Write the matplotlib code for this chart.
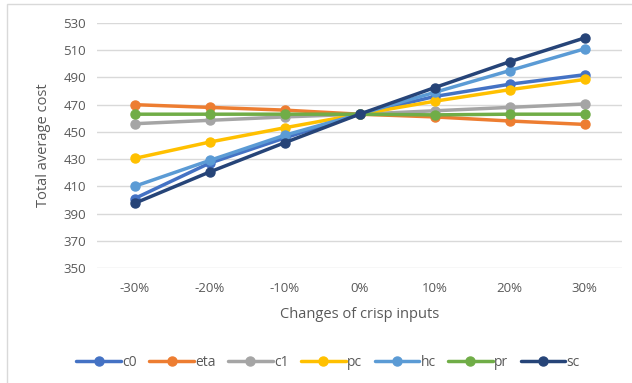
import numpy as np
import matplotlib
matplotlib.use("Agg")
import matplotlib.pyplot as plt
from matplotlib.patches import Rectangle

plt.rcParams['font.family'] = ['Open Sans', 'DejaVu Sans']

categories = ["-30%", "-20%", "-10%", "0%", "10%", "20%", "30%"]
c0 = [401, 427, 445.5, 463, 476, 485, 492]
eta = [470, 468, 466, 463, 461, 458, 455.5]
c1 = [456, 458.5, 461, 463, 465.5, 468, 470.5]
pc = [430.5, 442.5, 453, 463, 472.5, 481, 488.5]
hc = [410, 429, 447.5, 463, 479, 495, 511]
pr = [463, 463, 463, 463, 462.5, 463, 463]
sc = [397.5, 420.5, 442, 463, 482.5, 501.5, 519]

series = [("c0", c0, "#4472C4"), ("eta", eta, "#ED7D31"), ("c1", c1, "#A5A5A5"),
          ("pc", pc, "#FFC000"), ("hc", hc, "#5B9BD5"), ("pr", pr, "#70AD47"),
          ("sc", sc, "#264478")]

fig = plt.figure(figsize=(6.32, 3.83), dpi=100)
ax = fig.add_axes([97/632, 1-268/383, 525/632, 245/383])

x = np.arange(len(categories))
for name, vals, col in series:
    ax.plot(x, vals, color=col, lw=2.5, marker="o", ms=6.5, label=name,
            solid_capstyle="round")

ax.set_xlim(-0.5, len(categories)-0.5)
ax.set_ylim(350, 530)
ax.set_yticks(np.arange(350, 531, 20))
ax.set_xticks(x)
ax.set_xticklabels(categories)
ax.grid(axis="y", color="#d9d9d9", lw=1)
ax.set_axisbelow(True)
for s in ax.spines.values():
    s.set_visible(False)
ax.tick_params(length=0, labelsize=9.5, labelcolor="#595959", pad=10)
ax.tick_params(axis="y", pad=8)

ax.set_xlabel("Changes of crisp inputs", fontsize=10.5, color="#595959", labelpad=9)
ax.set_ylabel("Total average cost", fontsize=10.5, color="#595959", labelpad=9)

ax.legend(loc="center", bbox_to_anchor=(328/632, 1-362/383), bbox_transform=fig.transFigure,
          ncol=7, frameon=False, fontsize=10, handlelength=3.2, handletextpad=0.1,
          columnspacing=0.9, labelcolor="#595959")

fig.patches.append(Rectangle((7/632, -0.01), 1, 1-4/383+0.01, transform=fig.transFigure,
                             fill=False, edgecolor="#d9d9d9", lw=1))

fig.savefig("out.png", dpi=100)
